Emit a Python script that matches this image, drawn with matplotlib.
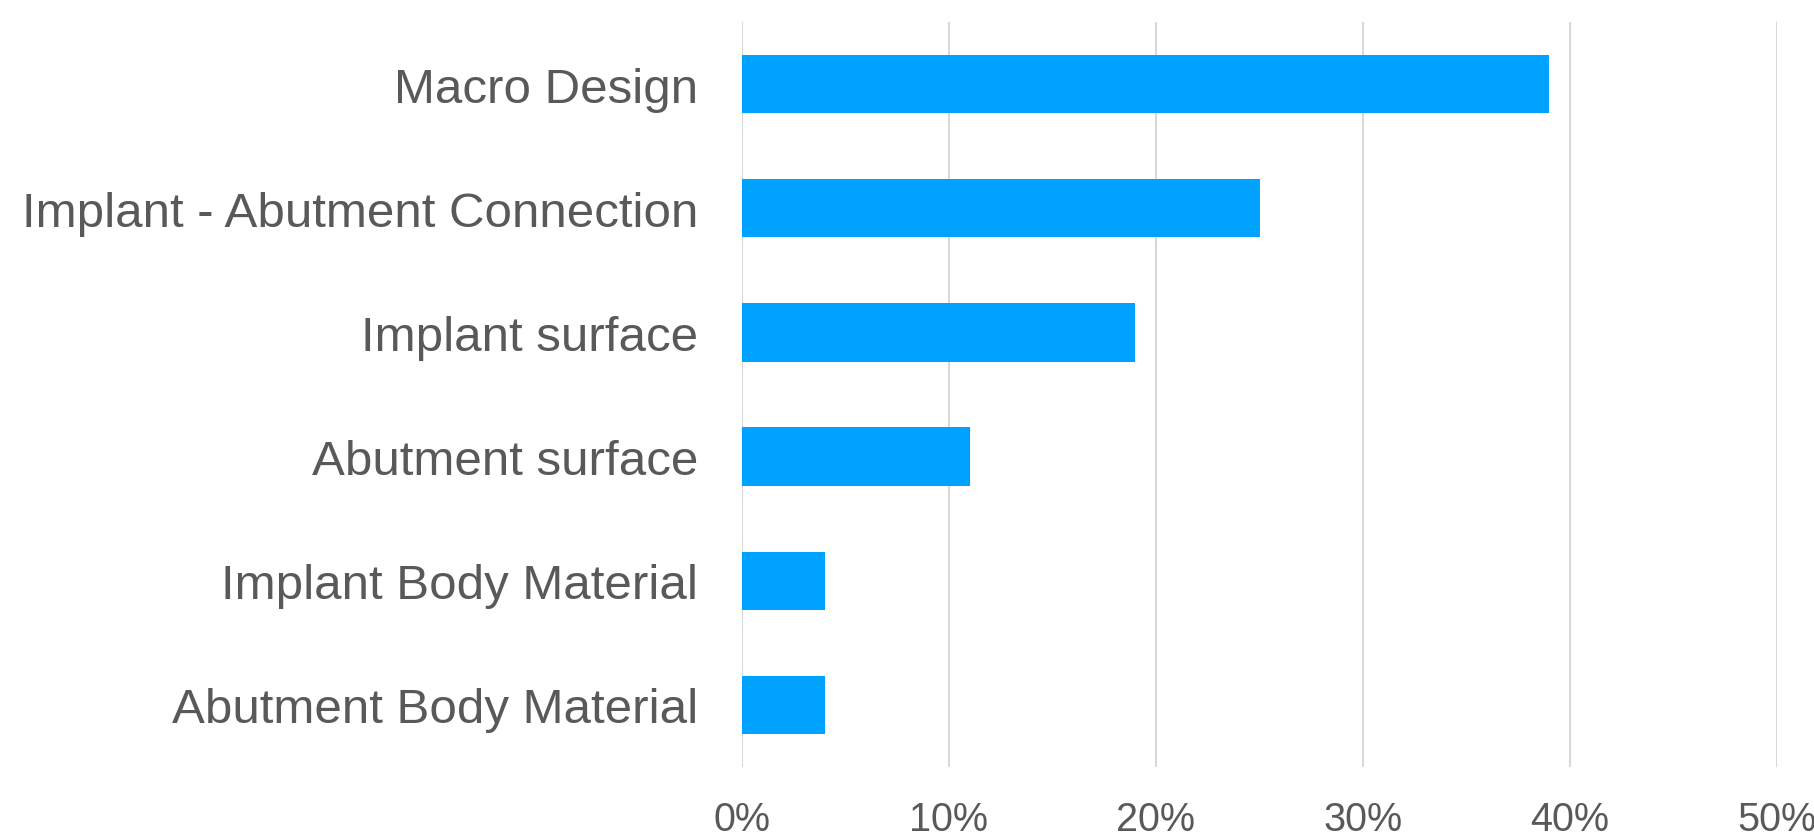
import matplotlib
matplotlib.use("Agg")
import matplotlib.pyplot as plt
from matplotlib.ticker import FuncFormatter

categories = ["Macro Design", "Implant - Abutment Connection", "Implant surface",
              "Abutment surface", "Implant Body Material", "Abutment Body Material"]
values = [0.39, 0.25, 0.19, 0.11, 0.04, 0.04]
tick_values = [0.0, 0.1, 0.2, 0.3, 0.4, 0.5]

plt.rcParams['font.family'] = ['Liberation Sans', 'DejaVu Sans']

W, H = 1815, 837
fig = plt.figure(figsize=(W / 100, H / 100), dpi=100)
left, right, top, bottom = 742, 1777, 23, 768
ax = fig.add_axes([left / W, 1 - bottom / H, (right - left) / W, (bottom - top) / H])

ypos = list(range(len(categories)))
ax.barh(ypos, values, height=0.47, color="#00A2FF", zorder=3)

ax.set_xlim(0, 0.5)
ax.set_ylim(len(categories) - 0.5, -0.5)
ax.set_xticks(tick_values)
ax.xaxis.set_major_formatter(FuncFormatter(lambda v, p: f"{v*100:.0f}%"))
ax.set_yticks(ypos)
ax.set_yticklabels(categories)

ax.grid(axis="x", color="#d9d9d9", linewidth=1.5, zorder=0)
ax.grid(axis="y", visible=False)
for s in ax.spines.values():
    s.set_visible(False)

ax.tick_params(axis="x", length=0, pad=23.5, labelsize=28.5, labelcolor="#595959")
ax.tick_params(axis="y", length=0, pad=31.7, labelsize=35.5, labelcolor="#595959")

fig.savefig("out.png", dpi=100, facecolor="white")
